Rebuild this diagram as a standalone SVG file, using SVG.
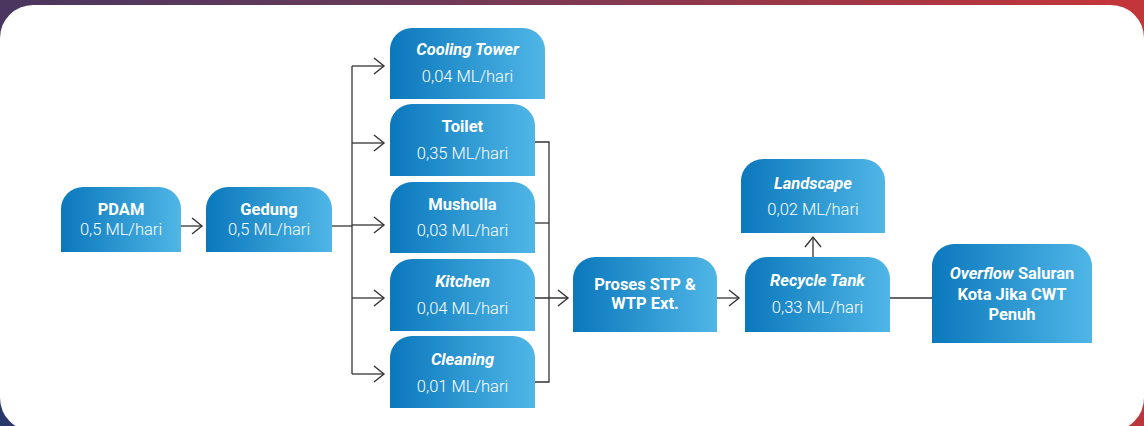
<svg xmlns="http://www.w3.org/2000/svg" width="1144" height="426" viewBox="0 0 1144 426">
<defs>
<linearGradient id="bg" gradientUnits="userSpaceOnUse" x1="0" y1="426" x2="1144" y2="200">
<stop offset="0" stop-color="#27386c"/>
<stop offset="0.07" stop-color="#4a3660"/>
<stop offset="0.41" stop-color="#6a3a58"/>
<stop offset="1" stop-color="#c2353a"/>
</linearGradient>
<linearGradient id="ng" x1="0" y1="0" x2="1" y2="0">
<stop offset="0" stop-color="#0b78bd"/>
<stop offset="1" stop-color="#4fb6e6"/>
</linearGradient>
<marker id="arr" markerUnits="userSpaceOnUse" markerWidth="24" markerHeight="24" viewBox="-12 -12 24 24" refX="0" refY="0" orient="auto">
<path d="M-10,-8 L0,0 L-10,8" fill="none" stroke="#333" stroke-width="1.4"/>
</marker>
</defs>
<style>
.node{fill:url(#ng)}
.t{font-family:Roboto,"Liberation Sans",sans-serif;font-size:16.5px;font-weight:700;fill:#fff;text-anchor:middle}
.v{font-family:Roboto,"Liberation Sans",sans-serif;font-size:16.5px;font-weight:300;fill:#fff;text-anchor:middle}
.i{font-style:italic}
.c{fill:none;stroke:#333;stroke-width:1.3}
</style>
<rect x="0" y="0" width="1144" height="426" fill="url(#bg)"/>
<rect x="0" y="5" width="1144" height="426" rx="33" ry="33" fill="#fff"/>

<g id="connectors">
<path class="c" d="M181,226 H202" marker-end="url(#arr)"/>
<path class="c" d="M332,226 H352"/>
<path class="c" d="M352,66 V374"/>
<path class="c" d="M352,66 H384" marker-end="url(#arr)"/>
<path class="c" d="M352,143 H384" marker-end="url(#arr)"/>
<path class="c" d="M352,225 H384" marker-end="url(#arr)"/>
<path class="c" d="M352,298 H384" marker-end="url(#arr)"/>
<path class="c" d="M352,374 H384" marker-end="url(#arr)"/>
<path class="c" d="M535,142 H549 V382 H535"/>
<path class="c" d="M535,223 H549"/>
<path class="c" d="M535,298 H568" marker-end="url(#arr)"/>
<path class="c" d="M717,298 H739" marker-end="url(#arr)"/>
<path class="c" d="M813,257 V237" marker-end="url(#arr)"/>
<path class="c" d="M890,298 H932"/>
</g>

<g id="pdam">
<path class="node" d="M61,252 V209 A22,22 0 0 1 83,187 H159 A22,22 0 0 1 181,209 V252 Z"/>
<text class="t" x="121" y="215">PDAM</text>
<text class="v" x="121" y="235">0,5 ML/hari</text>
</g>
<g id="gedung">
<path class="node" d="M206,252 V209 A22,22 0 0 1 228,187 H310 A22,22 0 0 1 332,209 V252 Z"/>
<text class="t" x="269" y="215">Gedung</text>
<text class="v" x="269" y="235">0,5 ML/hari</text>
</g>
<g id="cooling-tower">
<path class="node" d="M390,99 V50 A22,22 0 0 1 412,28 H523 A22,22 0 0 1 545,50 V99 Z"/>
<text class="t i" x="467.5" y="55">Cooling Tower</text>
<text class="v" x="467.5" y="82">0,04 ML/hari</text>
</g>
<g id="toilet">
<path class="node" d="M390,176 V126 A22,22 0 0 1 412,104 H513 A22,22 0 0 1 535,126 V176 Z"/>
<text class="t" x="462.5" y="132">Toilet</text>
<text class="v" x="462.5" y="159">0,35 ML/hari</text>
</g>
<g id="musholla">
<path class="node" d="M390,253 V204 A22,22 0 0 1 412,182 H513 A22,22 0 0 1 535,204 V253 Z"/>
<text class="t" x="462.5" y="210">Musholla</text>
<text class="v" x="462.5" y="236">0,03 ML/hari</text>
</g>
<g id="kitchen">
<path class="node" d="M390,331 V281 A22,22 0 0 1 412,259 H513 A22,22 0 0 1 535,281 V331 Z"/>
<text class="t i" x="462.5" y="287">Kitchen</text>
<text class="v" x="462.5" y="314">0,04 ML/hari</text>
</g>
<g id="cleaning">
<path class="node" d="M390,408 V358 A22,22 0 0 1 412,336 H513 A22,22 0 0 1 535,358 V408 Z"/>
<text class="t i" x="462.5" y="365">Cleaning</text>
<text class="v" x="462.5" y="392">0,01 ML/hari</text>
</g>
<g id="proses-stp">
<path class="node" d="M573,332 V279 A22,22 0 0 1 595,257 H695 A22,22 0 0 1 717,279 V332 Z"/>
<text class="t" x="645" y="290">Proses STP &amp;</text>
<text class="t" x="645" y="309">WTP Ext.</text>
</g>
<g id="recycle-tank">
<path class="node" d="M745,332 V279 A22,22 0 0 1 767,257 H868 A22,22 0 0 1 890,279 V332 Z"/>
<text class="t i" x="817.5" y="286">Recycle Tank</text>
<text class="v" x="817.5" y="313">0,33 ML/hari</text>
</g>
<g id="landscape">
<path class="node" d="M741,233 V181 A22,22 0 0 1 763,159 H863 A22,22 0 0 1 885,181 V233 Z"/>
<text class="t i" x="813" y="189">Landscape</text>
<text class="v" x="813" y="215">0,02 ML/hari</text>
</g>
<g id="overflow">
<path class="node" d="M932,343 V266 A22,22 0 0 1 954,244 H1070 A22,22 0 0 1 1092,266 V343 Z"/>
<text class="t" x="1012" y="279"><tspan class="i">Overflow</tspan> Saluran</text>
<text class="t" x="1012" y="300">Kota Jika CWT</text>
<text class="t" x="1012" y="320">Penuh</text>
</g>
</svg>
